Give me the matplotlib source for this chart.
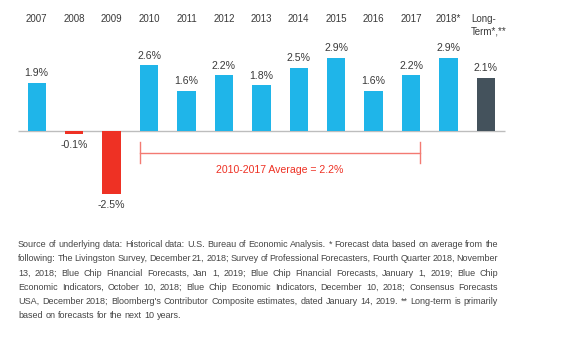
import matplotlib
matplotlib.use("Agg")
import matplotlib.pyplot as plt
from matplotlib.transforms import offset_copy

# ---- data ----
years = ["2007", "2008", "2009", "2010", "2011", "2012", "2013",
         "2014", "2015", "2016", "2017", "2018*", "Long-\nTerm*,**"]
growth = [1.9, -0.1, -2.5, 2.6, 1.6, 2.2, 1.8, 2.5, 2.9, 1.6, 2.2, 2.9, 2.1]
value_labels = ["1.9%", "-0.1%", "-2.5%", "2.6%", "1.6%", "2.2%", "1.8%",
                "2.5%", "2.9%", "1.6%", "2.2%", "2.9%", "2.1%"]
avg_span = (3, 10)          # 2010 .. 2017
avg_value = 2.2
avg_label = "2010-2017 Average = 2.2%"

footnote_lines = [
    "Source of underlying data: Historical data: U.S. Bureau of Economic Analysis. * Forecast data based on average from the",
    "following: The Livingston Survey, December 21, 2018; Survey of Professional Forecasters, Fourth Quarter 2018, November",
    "13, 2018; Blue Chip Financial Forecasts, Jan 1, 2019; Blue Chip Financial Forecasts, January 1, 2019; Blue Chip",
    "Economic Indicators, October 10, 2018; Blue Chip Economic Indicators, December 10, 2018; Consensus Forecasts",
    "USA, December 2018; Bloomberg's Contributor Composite estimates, dated January 14, 2019. ** Long-term is primarily",
    "based on forecasts for the next 10 years.",
]

# ---- style ----
BLUE = "#1fb5e9"
RED = "#ee3124"
SLATE = "#44525c"
TEXT = "#3a3a3a"
NOTE = "#454545"
FONT = ["Liberation Sans", "DejaVu Sans"]
plt.rcParams["font.family"] = FONT

W, H = 562, 337
fig = plt.figure(figsize=(W / 100, H / 100), dpi=100)
ax = fig.add_axes([0, 0, 1, 1])
ax.set_axis_off()

# pixel layout: bar centres, baseline and vertical scale
x0_px, step_px = 36.7, 37.44
base_px, unit_px = 131.0, 25.3
ax.set_xlim(-x0_px / step_px, (W - x0_px) / step_px)
ax.set_ylim(-(H - base_px) / unit_px, base_px / unit_px)


def fig_xy(px, py):
    """Figure-fraction coordinates from pixel position (origin top-left)."""
    return px / W, 1 - py / H


n = len(growth)
colors = [RED if v < 0 else BLUE for v in growth]
colors[-1] = SLATE
xs = list(range(n))
ax.bar(xs, growth, width=0.49, color=colors, edgecolor="none", zorder=2)

# baseline
ax.plot([-0.505, 12.5], [0, 0], color="#bdbdbd", lw=1.0, zorder=1,
        solid_capstyle="butt")

# value labels
for x, v, lab in zip(xs, growth, value_labels):
    if v >= 0:
        t = offset_copy(ax.transData, fig=fig, x=0, y=6.5, units="dots")
        ax.text(x, v, lab, transform=t, ha="center", va="baseline",
                fontsize=7.6, color=TEXT)
    else:
        t = offset_copy(ax.transData, fig=fig, x=0, y=-6, units="dots")
        ax.text(x, v, lab, transform=t, ha="center", va="top",
                fontsize=7.6, color=TEXT)

# category labels on top
for x, lab in zip(xs[:-1], years[:-1]):
    cx = (x0_px + step_px * x)
    fig.text(*fig_xy(cx, 19), lab, ha="center", va="center",
             fontsize=7, color=TEXT)
lt_lines = years[-1].split("\n")
for i, part in enumerate(lt_lines):
    fig.text(*fig_xy(471, 19 + 12 * i), part, ha="left", va="center",
             fontsize=7, color=TEXT)

# average bracket
a, b = avg_span
left = a - 0.25
right = b + 0.25
y_br = -(152.5 - base_px) / unit_px
tick = 10.5 / unit_px
bracket_col = "#f37a72"
ax.plot([left, right], [y_br, y_br], color=bracket_col, lw=1.0)
ax.plot([left, left], [y_br - tick, y_br + tick], color=bracket_col, lw=1.0)
ax.plot([right, right], [y_br - tick, y_br + tick], color=bracket_col, lw=1.0)
ax.text((left + right) / 2, -(170 - base_px) / unit_px, avg_label,
        ha="center", va="center", fontsize=7.6, color=RED)

# footnote, justified between left and right margins
renderer = fig.canvas.get_renderer()
note_left, note_right = 18.0, 498.0
note_top, note_step = 244.5, 14.3
note_size = 6.5
probe = fig.text(0, 0, "a a", fontsize=note_size)
probe2 = fig.text(0, 0, "aa", fontsize=note_size)
space_w = (probe.get_window_extent(renderer).width
           - probe2.get_window_extent(renderer).width)
probe.remove()
probe2.remove()
for i, line in enumerate(footnote_lines):
    py = note_top + note_step * i
    words = line.split(" ")
    texts = [fig.text(0, 0, w, fontsize=note_size, color=NOTE,
                      ha="left", va="center") for w in words]
    widths = [t.get_window_extent(renderer).width for t in texts]
    last = i == len(footnote_lines) - 1
    if last or len(words) == 1:
        gap = space_w
    else:
        gap = (note_right - note_left - sum(widths)) / (len(words) - 1)
    px = note_left
    for t, w in zip(texts, widths):
        t.set_position(fig_xy(px, py))
        px += w + gap

fig.savefig("out.png", dpi=100, facecolor="white")
